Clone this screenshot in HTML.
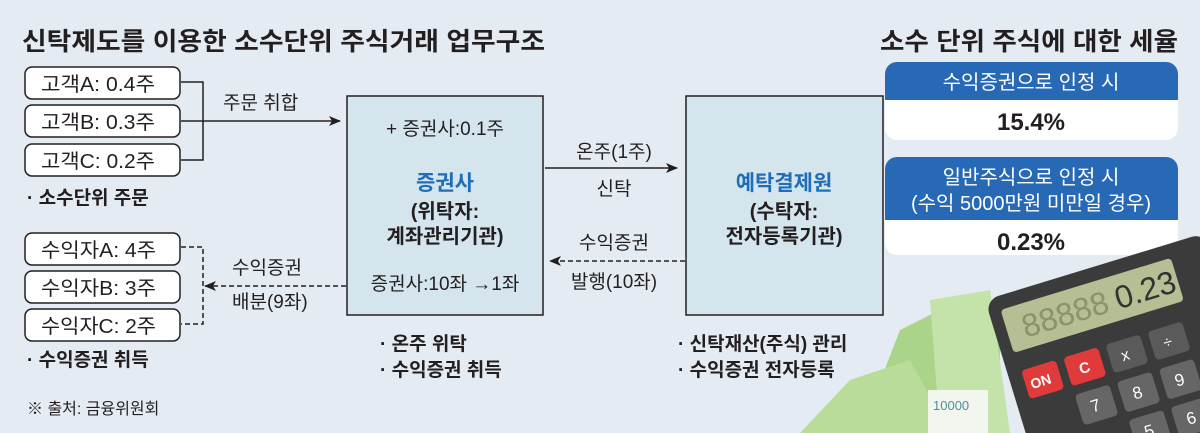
<!DOCTYPE html>
<html><head><meta charset="utf-8"><style>
html,body{margin:0;padding:0;width:1200px;height:433px;overflow:hidden;background:#e5ebf2;}
svg{display:block}
text{font-family:"Liberation Sans","Noto Sans CJK KR",sans-serif;fill:#231f20}
.b{font-weight:bold}
</style></head><body>
<svg width="1200" height="433" viewBox="0 0 1200 433">
<defs><marker id="ah" markerWidth="12" markerHeight="10" refX="11" refY="5" orient="auto" markerUnits="userSpaceOnUse"><path d="M0,0 L12,5 L0,10 L3,5z" fill="#231f20"/></marker></defs>
<rect width="1200" height="433" fill="#e5ebf2"/>
<text x="22" y="50" font-size="25" class="b" textLength="523" lengthAdjust="spacingAndGlyphs">신탁제도를 이용한 소수단위 주식거래 업무구조</text>
<text x="880" y="50" font-size="25" class="b" textLength="298" lengthAdjust="spacingAndGlyphs">소수 단위 주식에 대한 세율</text>

<g fill="#fff" stroke="#231f20" stroke-width="1.5">
<rect x="25" y="67" width="155" height="32" rx="7"/>
<rect x="25" y="105" width="155" height="32" rx="7"/>
<rect x="25" y="144" width="155" height="32" rx="7"/>
<rect x="25" y="233" width="155" height="32" rx="7"/>
<rect x="25" y="271" width="155" height="32" rx="7"/>
<rect x="25" y="309" width="155" height="32" rx="7"/>
</g>
<g font-size="20">
<text x="41" y="91" textLength="114" lengthAdjust="spacingAndGlyphs">고객A: 0.4주</text>
<text x="41" y="129" textLength="114" lengthAdjust="spacingAndGlyphs">고객B: 0.3주</text>
<text x="41" y="168" textLength="114" lengthAdjust="spacingAndGlyphs">고객C: 0.2주</text>
<text x="41" y="257" textLength="115" lengthAdjust="spacingAndGlyphs">수익자A: 4주</text>
<text x="41" y="295" textLength="115" lengthAdjust="spacingAndGlyphs">수익자B: 3주</text>
<text x="41" y="333" textLength="115" lengthAdjust="spacingAndGlyphs">수익자C: 2주</text>
</g>
<path d="M181,82 H203 V160 H181" fill="none" stroke="#231f20" stroke-width="1.5"/>
<line x1="181" y1="121" x2="340" y2="121" stroke="#231f20" stroke-width="1.5" marker-end="url(#ah)"/>
<text x="223" y="109" font-size="19">주문 취합</text>
<path d="M181,247 H203 V324 H181" fill="none" stroke="#231f20" stroke-width="1.5" stroke-dasharray="5,3"/>
<line x1="346" y1="286" x2="205" y2="286" stroke="#231f20" stroke-width="1.5" stroke-dasharray="5,3" marker-end="url(#ah)"/>
<text x="232" y="274" font-size="19">수익증권</text>
<text x="232" y="308" font-size="19">배분(9좌)</text>

<text x="27" y="204" font-size="19" class="b">· 소수단위 주문</text>
<text x="27" y="366" font-size="19" class="b">· 수익증권 취득</text>
<text x="27" y="414" font-size="16">※ 출처: 금융위원회</text>

<rect x="347" y="96" width="196" height="219" fill="#d4e5ee" stroke="#231f20" stroke-width="1.5"/>
<rect x="686" y="96" width="197" height="219" fill="#d4e5ee" stroke="#231f20" stroke-width="1.5"/>
<g text-anchor="middle">
<text x="445" y="135" font-size="19">+ 증권사:0.1주</text>
<text x="445" y="190" font-size="21" class="b" style="fill:#1e6fb8">증권사</text>
<text x="445" y="218" font-size="20" class="b">(위탁자:</text>
<text x="445" y="243" font-size="20" class="b">계좌관리기관)</text>
<text x="445" y="290" font-size="19">증권사:10좌 →1좌</text>
<text x="784" y="190" font-size="21" class="b" style="fill:#1e6fb8">예탁결제원</text>
<text x="784" y="218" font-size="20" class="b">(수탁자:</text>
<text x="784" y="243" font-size="20" class="b">전자등록기관)</text>
<text x="614" y="158" font-size="19">온주(1주)</text>
<text x="614" y="195" font-size="19">신탁</text>
<text x="614" y="249" font-size="19">수익증권</text>
<text x="614" y="288" font-size="19">발행(10좌)</text>
</g>
<line x1="545" y1="168" x2="677" y2="168" stroke="#231f20" stroke-width="1.5" marker-end="url(#ah)"/>
<line x1="685" y1="261" x2="550" y2="261" stroke="#231f20" stroke-width="1.5" stroke-dasharray="5,3" marker-end="url(#ah)"/>
<text x="380" y="350" font-size="19" class="b">· 온주 위탁</text>
<text x="380" y="376" font-size="19" class="b">· 수익증권 취득</text>
<text x="678" y="350" font-size="19" class="b">· 신탁재산(주식) 관리</text>
<text x="678" y="376" font-size="19" class="b">· 수익증권 전자등록</text>

<rect x="885" y="62" width="293" height="78" rx="12" fill="#fff"/>
<path d="M885,100 V74 a12,12 0 0 1 12,-12 H1166 a12,12 0 0 1 12,12 V100z" fill="#2769b4"/>
<rect x="885" y="157" width="293" height="98" rx="12" fill="#fff"/>
<path d="M885,220 V169 a12,12 0 0 1 12,-12 H1166 a12,12 0 0 1 12,12 V220z" fill="#2769b4"/>
<g text-anchor="middle">
<text x="1031" y="89" font-size="20" style="fill:#fff">수익증권으로 인정 시</text>
<text x="1031" y="130" font-size="24" class="b">15.4%</text>
<text x="1031" y="184" font-size="20" style="fill:#fff">일반주식으로 인정 시</text>
<text x="1031" y="210" font-size="20" style="fill:#fff">(수익 5000만원 미만일 경우)</text>
<text x="1031" y="250" font-size="24" class="b">0.23%</text>
</g>

<g>
<polygon points="860,433 900,330 960,300 1000,320 1000,433" fill="#a9d48a"/>
<polygon points="800,433 850,380 910,360 950,433" fill="#b9dc98"/>
<polygon points="930,300 990,290 1010,433 940,433" fill="#c4e3a8"/>
<rect x="928" y="390" width="60" height="43" fill="#f2f6ee"/>
<text x="933" y="410" font-size="13" style="fill:#4a8fa0">10000</text>
</g>
<g transform="translate(985,300) rotate(-17)">
<rect x="0" y="0" width="230" height="220" rx="14" fill="#3b3b3b"/>
<rect x="12" y="14" width="178" height="45" rx="4" fill="#b6be94"/>
<text x="28" y="48" font-size="32" style="fill:#8a926e">88888</text>
<text x="125" y="48" font-size="32" style="fill:#333">0.23</text>
<rect x="14" y="78" width="36" height="30" rx="4" fill="#e03a3a"/>
<text x="19" y="99" font-size="14" class="b" style="fill:#fff">ON</text>
<rect x="58" y="78" width="36" height="30" rx="4" fill="#e03a3a"/>
<text x="70" y="99" font-size="15" class="b" style="fill:#fff">C</text>
<rect x="102" y="78" width="36" height="30" rx="4" fill="#5a5a5a"/>
<text x="114" y="99" font-size="16" style="fill:#fff">x</text>
<rect x="146" y="78" width="36" height="30" rx="4" fill="#5a5a5a"/>
<text x="158" y="99" font-size="16" style="fill:#fff">÷</text>
<rect x="58" y="117" width="36" height="32" rx="4" fill="#666"/><text x="70" y="139" font-size="17" style="fill:#fff">7</text>
<rect x="102" y="117" width="36" height="32" rx="4" fill="#666"/><text x="114" y="139" font-size="17" style="fill:#fff">8</text>
<rect x="146" y="117" width="36" height="32" rx="4" fill="#666"/><text x="158" y="139" font-size="17" style="fill:#fff">9</text>
<rect x="190" y="117" width="30" height="32" rx="4" fill="#555"/><text x="198" y="139" font-size="17" style="fill:#fff">+</text>
<rect x="102" y="157" width="36" height="32" rx="4" fill="#666"/><text x="114" y="179" font-size="17" style="fill:#fff">5</text>
<rect x="146" y="157" width="36" height="32" rx="4" fill="#666"/><text x="158" y="179" font-size="17" style="fill:#fff">6</text>
<rect x="190" y="157" width="30" height="32" rx="4" fill="#555"/><text x="200" y="179" font-size="17" style="fill:#fff">−</text>
</g>
</svg>
</body></html>
